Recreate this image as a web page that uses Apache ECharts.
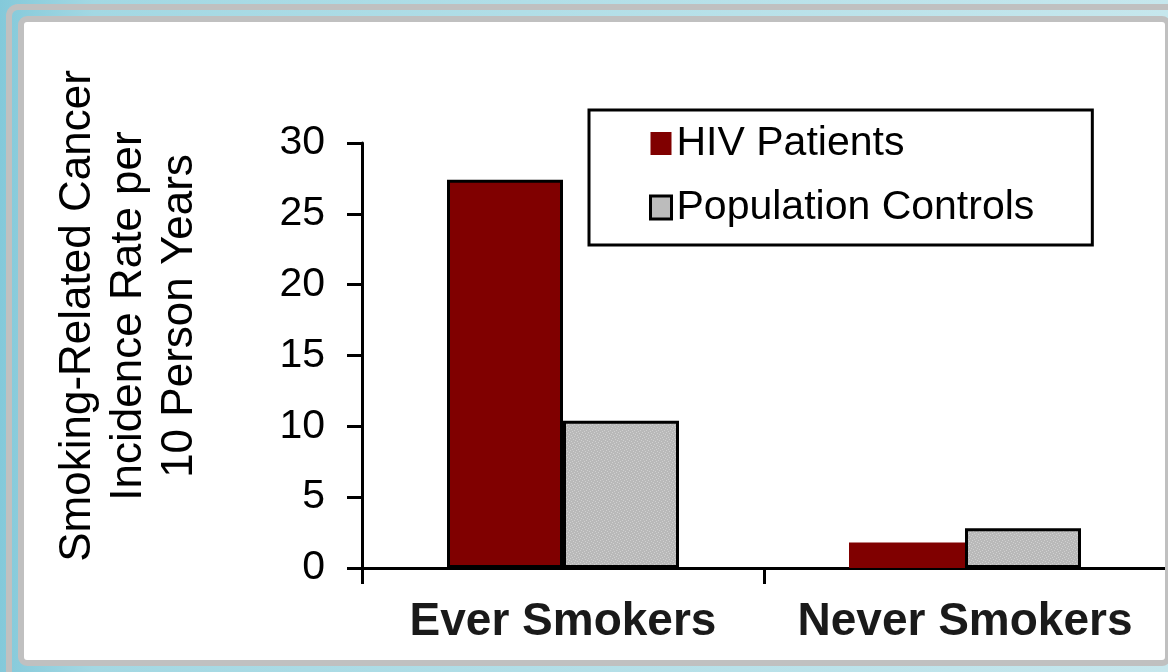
<!DOCTYPE html>
<html>
<head>
<meta charset="utf-8">
<title>Smoking-Related Cancer Incidence</title>
<script src="https://cdn.jsdelivr.net/npm/echarts@6/dist/echarts.min.js"></script>
<style>
  html, body { margin: 0; padding: 0; }
  #chart { width: 1168px; height: 672px; }
</style>
</head>
<body>
<div id="chart"></div>
<script>
// Categories and series values
const categories = ['Ever Smokers', 'Never Smokers'];
const hivPatients = [27.4, 1.8];
const populationControls = [10.4, 2.8];
const seriesNames = ['HIV Patients', 'Population Controls'];
const axisTitle = 'Smoking-Related Cancer\nIncidence Rate per\n10 Person Years';
const yMin = 0, yMax = 30, yStep = 5;

const sans = "'Liberation Sans', Arial, sans-serif";

// Stippled light-grey fill used for the control group
function stipple() {
  const c = document.createElement('canvas');
  c.width = 6; c.height = 6;
  const g = c.getContext('2d');
  g.fillStyle = '#b9b9b9';
  g.fillRect(0, 0, 6, 6);
  g.fillStyle = '#d0d0d0';
  [[0, 0], [3, 1], [1, 3], [4, 4], [5, 2], [2, 5]].forEach(function (p) {
    g.fillRect(p[0], p[1], 1, 1);
  });
  return { image: c, repeat: 'repeat' };
}
const greyFill = stipple();

const chart = echarts.init(document.getElementById('chart'), null, { renderer: 'canvas' });

chart.setOption({
  animation: false,
  backgroundColor: {
    type: 'linear', x: 0, y: 0, x2: 1, y2: 0,
    colorStops: [
      { offset: 0, color: '#84c9da' },
      { offset: 0.08, color: '#a3d8e3' },
      { offset: 1, color: '#c6e7ed' }
    ]
  },
  graphic: [
    // white panel
    { type: 'rect', z: -10, shape: { x: 21, y: 19, width: 1147, height: 644, r: 6 },
      style: { fill: '#ffffff', stroke: null } },
    // double grey frame
    { type: 'rect', z: 100, silent: true, shape: { x: 9, y: 7, width: 1180, height: 680, r: 9 },
      style: { fill: null, stroke: '#c0c0c0', lineWidth: 6 } },
    { type: 'rect', z: 100, silent: true, shape: { x: 21, y: 19, width: 1147, height: 644, r: 6 },
      style: { fill: null, stroke: '#c0c0c0', lineWidth: 6 } },
    // value axis title
    { type: 'text', z: 5, x: 129, y: 316, rotation: Math.PI / 2,
      style: { text: axisTitle, font: '44px ' + sans, fill: '#000',
               align: 'center', verticalAlign: 'middle', lineHeight: 51 } }
  ],
  legend: {
    orient: 'vertical',
    left: 589,
    top: 110,
    padding: [13, 58, 17, 60],
    borderColor: '#000',
    borderWidth: 3,
    borderRadius: 0,
    backgroundColor: '#fff',
    itemWidth: 21,
    itemHeight: 23,
    itemGap: 23,
    textStyle: { fontFamily: sans, fontSize: 41, color: '#000' },
    data: [
      { name: seriesNames[0], icon: 'rect', itemStyle: { borderWidth: 0 } },
      { name: seriesNames[1], icon: 'rect', itemStyle: { color: '#bcbcbc', borderColor: '#000', borderWidth: 3 } }
    ]
  },
  grid: { left: 362, right: 2, top: 143, bottom: 104, containLabel: false },
  xAxis: {
    type: 'category',
    data: categories,
    boundaryGap: true,
    axisLine: { lineStyle: { color: '#000', width: 3 } },
    axisTick: { show: true, alignWithLabel: false, length: 16, lineStyle: { color: '#000', width: 3 } },
    axisLabel: { margin: 31, fontFamily: sans, fontWeight: 'bold', fontSize: 46,
                 lineHeight: 46, color: '#1a1a1a', interval: 0 },
    splitLine: { show: false }
  },
  yAxis: {
    type: 'value',
    min: yMin, max: yMax, interval: yStep,
    axisLine: { show: true, lineStyle: { color: '#000', width: 3 } },
    axisTick: { show: true, length: 15, lineStyle: { color: '#000', width: 3 } },
    axisLabel: { margin: 37, fontFamily: sans, fontSize: 41, color: '#000' },
    splitLine: { show: false }
  },
  series: [
    {
      name: seriesNames[0],
      type: 'bar',
      barWidth: 116,
      barGap: '0%',
      itemStyle: { color: '#800000', borderColor: '#000', borderWidth: 3 },
      data: hivPatients.map(function (v, i) {
        return i === 0 ? v : { value: v, itemStyle: { borderWidth: 0 } };
      })
    },
    {
      name: seriesNames[1],
      type: 'bar',
      barWidth: 116,
      barGap: '0%',
      itemStyle: { color: greyFill, borderColor: '#000', borderWidth: 3 },
      data: populationControls
    }
  ]
});
</script>
</body>
</html>
